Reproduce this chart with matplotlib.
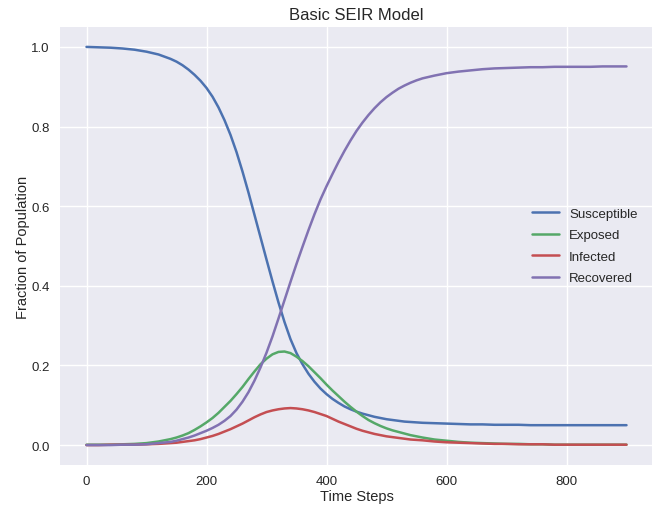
import numpy as np
import matplotlib
matplotlib.use('Agg')
import matplotlib.pyplot as plt

# time steps: coarse at the flat ends, finer through the outbreak
steps = list(range(0, 140, 20)) + list(range(140, 570, 10)) + list(range(580, 901, 20))

# fractions of the population
susceptible = [1.000, 0.999, 0.998, 0.996, 0.993, 0.988, 0.981,
               0.970, 0.963, 0.954, 0.943, 0.930, 0.915, 0.897, 0.875, 0.848, 0.816,
               0.779, 0.736, 0.687, 0.634, 0.578, 0.522, 0.466, 0.411, 0.358, 0.309,
               0.266, 0.231, 0.203, 0.179, 0.159, 0.142, 0.128, 0.116, 0.106, 0.097,
               0.090, 0.084, 0.079, 0.075, 0.071, 0.068, 0.065, 0.063, 0.061, 0.059,
               0.058, 0.057, 0.056,
               0.055, 0.054, 0.053, 0.052, 0.052, 0.051, 0.051, 0.051, 0.050, 0.050,
               0.050, 0.050, 0.050, 0.050, 0.050, 0.050, 0.050]

exposed = [0.001, 0.001, 0.001, 0.002, 0.003, 0.005, 0.009,
           0.015, 0.019, 0.024, 0.030, 0.038, 0.047, 0.057, 0.068, 0.081, 0.096,
           0.111, 0.128, 0.146, 0.166, 0.185, 0.203, 0.217, 0.228, 0.234, 0.235,
           0.231, 0.222, 0.211, 0.198, 0.183, 0.168, 0.152, 0.137, 0.123, 0.109,
           0.096, 0.084, 0.073, 0.063, 0.055, 0.048, 0.042, 0.037, 0.033, 0.029,
           0.025, 0.022, 0.019,
           0.014, 0.011, 0.008, 0.006, 0.005, 0.004, 0.003, 0.003, 0.002, 0.002,
           0.001, 0.001, 0.001, 0.001, 0.001, 0.001, 0.001]

infected = [0.000, 0.000, 0.001, 0.001, 0.001, 0.002, 0.003,
            0.005, 0.006, 0.008, 0.010, 0.012, 0.015, 0.019, 0.023, 0.028, 0.034,
            0.040, 0.047, 0.054, 0.062, 0.070, 0.077, 0.083, 0.087, 0.090, 0.092,
            0.093, 0.092, 0.090, 0.087, 0.083, 0.078, 0.073, 0.066, 0.059, 0.053,
            0.047, 0.041, 0.036, 0.032, 0.028, 0.025, 0.022, 0.020, 0.018, 0.016,
            0.014, 0.013, 0.012,
            0.009, 0.007, 0.006, 0.005, 0.004, 0.003, 0.003, 0.002, 0.002, 0.002,
            0.001, 0.001, 0.001, 0.001, 0.001, 0.001, 0.001]

recovered = [0.000, 0.000, 0.000, 0.001, 0.001, 0.002, 0.005,
             0.008, 0.011, 0.015, 0.019, 0.024, 0.030, 0.036, 0.043, 0.051, 0.061,
             0.073, 0.089, 0.109, 0.133, 0.162, 0.195, 0.232, 0.273, 0.318, 0.364,
             0.410, 0.455, 0.498, 0.540, 0.580, 0.617, 0.650, 0.681, 0.711, 0.739,
             0.765, 0.789, 0.810, 0.829, 0.846, 0.861, 0.874, 0.885, 0.895, 0.903,
             0.910, 0.916, 0.921,
             0.928, 0.934, 0.938, 0.941, 0.944, 0.946, 0.947, 0.948, 0.949, 0.949,
             0.950, 0.950, 0.950, 0.950, 0.951, 0.951, 0.951]

plt.style.use('seaborn-v0_8')
plt.rcParams['font.family'] = ['Liberation Sans', 'DejaVu Sans']

fig = plt.figure(figsize=(6.52, 5.06), dpi=100)
ax = fig.add_axes([59.5/652, 40/506, 594/652, 438/506])

ax.plot(steps, susceptible, color='#4C72B0', lw=1.8, label='Susceptible')
ax.plot(steps, exposed, color='#55A868', lw=1.8, label='Exposed')
ax.plot(steps, infected, color='#C44E52', lw=1.8, label='Infected')
ax.plot(steps, recovered, color='#8172B2', lw=1.8, label='Recovered')

ax.set_title('Basic SEIR Model', fontsize=12, color='#262626')
ax.set_xlabel('Time Steps', fontsize=10.5, color='#262626', labelpad=2)
ax.set_ylabel('Fraction of Population', fontsize=10.5, color='#262626', labelpad=1)
ax.set_xticks([0, 200, 400, 600, 800])
ax.set_yticks([0.0, 0.2, 0.4, 0.6, 0.8, 1.0])
ax.tick_params(labelsize=9.5, labelcolor='#262626')
ax.legend(loc='center right', fontsize=9.5, frameon=False, labelspacing=0.7,
          borderaxespad=0.8)

fig.savefig('out.png', dpi=100)
